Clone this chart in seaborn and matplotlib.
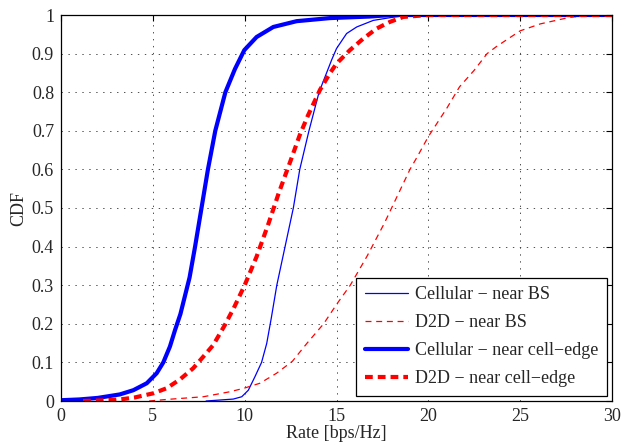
import matplotlib
matplotlib.use("Agg")
import matplotlib.pyplot as plt
import seaborn as sns
import pandas as pd

# ---- data ----
cell_bs_x = [7.9, 9.38, 9.84, 10.2, 10.56, 10.92, 11.2, 11.45, 11.75, 12.2, 12.65, 13.0,
             13.5, 14.05, 14.73, 15.0, 15.55, 16.1, 17.0, 17.9, 19.0, 30.0]
cell_bs_y = [0.0, 0.005, 0.011, 0.028, 0.063, 0.10, 0.149, 0.215, 0.30, 0.40, 0.50, 0.60,
             0.70, 0.80, 0.883, 0.913, 0.952, 0.969, 0.986, 0.993, 1.0, 1.0]

d2d_bs_x = [4.8, 5.75, 7.75, 9.2, 9.96, 10.83, 11.74, 12.6, 13.4, 14.3, 15.0, 15.75,
            16.65, 17.6, 18.2, 19.0, 19.4, 20.0, 21.0, 21.7, 22.5, 23.2, 23.7, 25.0,
            26.1, 27.7, 29.0, 30.0]
d2d_bs_y = [0.0, 0.004, 0.011, 0.024, 0.033, 0.046, 0.072, 0.103, 0.15, 0.20, 0.25, 0.30,
            0.374, 0.46, 0.52, 0.60, 0.633, 0.685, 0.758, 0.814, 0.857, 0.90, 0.918,
            0.959, 0.977, 0.994, 1.0, 1.0]

cell_edge_x = [0.0, 1.0, 2.0, 3.2, 3.94, 4.67, 5.21, 5.57, 5.93, 6.21, 6.5, 7.0,
               7.3, 7.65, 8.0, 8.4, 8.95, 9.47, 9.98, 10.65, 11.56, 12.83, 14.64, 16.8,
               18.0, 30.0]
cell_edge_y = [0.002, 0.004, 0.008, 0.017, 0.028, 0.046, 0.072, 0.10, 0.141, 0.184, 0.225,
               0.32, 0.40, 0.50, 0.60, 0.70, 0.80, 0.86, 0.909, 0.943, 0.969,
               0.984, 0.992, 0.996, 1.0, 1.0]

d2d_edge_x = [1.2, 2.5, 3.2, 4.0, 5.03, 5.75, 6.48, 7.2, 7.75, 8.29, 8.9, 9.4, 10.0,
              10.65, 11.3, 11.85, 12.45, 13.0, 13.45, 14.1, 14.64, 15.0, 15.73, 16.46,
              17.19, 17.9, 18.63, 20.0, 30.0]
d2d_edge_y = [0.0, 0.002, 0.004, 0.009, 0.02, 0.033, 0.056, 0.085, 0.115, 0.145, 0.195,
              0.24, 0.30, 0.374, 0.46, 0.538, 0.616, 0.689, 0.74, 0.806, 0.849, 0.874,
              0.909, 0.939, 0.965, 0.982, 0.995, 1.0, 1.0]

labels = ["Cellular \u2212 near BS", "D2D \u2212 near BS",
          "Cellular \u2212 near cell\u2212edge", "D2D \u2212 near cell\u2212edge"]
x_ticks = [0, 5, 10, 15, 20, 25, 30]
y_ticks = [0, 0.1, 0.2, 0.3, 0.4, 0.5, 0.6, 0.7, 0.8, 0.9, 1]
y_tick_labels = ["0", "0.1", "0.2", "0.3", "0.4", "0.5", "0.6", "0.7", "0.8", "0.9", "1"]

sns.set_theme(style="white")
plt.rcParams["font.family"] = ["Liberation Serif", "DejaVu Serif"]
plt.rcParams["lines.scale_dashes"] = False
plt.rcParams["xtick.direction"] = "in"
plt.rcParams["ytick.direction"] = "in"

fig = plt.figure(figsize=(6.42, 4.47), dpi=100)
ax = fig.add_axes([61 / 642, 46 / 447, 551 / 642, 386 / 447])

series = [
    (cell_bs_x, cell_bs_y, labels[0], "#0000ff", 0.9, "-"),
    (d2d_bs_x, d2d_bs_y, labels[1], "#ff0000", 0.9, (0, (4.3, 3.4))),
    (cell_edge_x, cell_edge_y, labels[2], "#0000ff", 3.0, "-"),
    (d2d_edge_x, d2d_edge_y, labels[3], "#ff0000", 3.0, (0, (5.6, 3.6))),
]
for xs, ys, lab, col, lw, ls in series:
    df = pd.DataFrame({"x": xs, "y": ys})
    sns.lineplot(data=df, x="x", y="y", ax=ax, color=col, linewidth=lw,
                 linestyle=ls, label=lab, estimator=None, sort=False)

ax.set_xlim(0, 30)
ax.set_ylim(0, 1)
ax.set_xticks(x_ticks)
ax.set_xticklabels([str(t) for t in x_ticks])
ax.set_yticks(y_ticks)
ax.set_yticklabels(y_tick_labels)
ax.tick_params(axis="both", labelsize=13, length=4, width=0.8, color="black",
               top=True, right=True, pad=5)
ax.grid(True, linestyle=(0, (1, 4)), color="#333333", linewidth=0.6)
for s in ax.spines.values():
    s.set_color("black")
    s.set_linewidth(0.9)

ax.set_xlabel("Rate [bps/Hz]", fontsize=13, labelpad=0)
ax.set_ylabel("CDF", fontsize=13, labelpad=3)

leg = ax.legend(loc="lower right", fontsize=13, frameon=True, fancybox=False,
                edgecolor="black", framealpha=1, handlelength=2.4,
                labelspacing=0.62, borderaxespad=0.3, borderpad=0.45,
                handletextpad=0.4)
leg.get_frame().set_linewidth(0.9)

fig.savefig("out.png", dpi=100)
